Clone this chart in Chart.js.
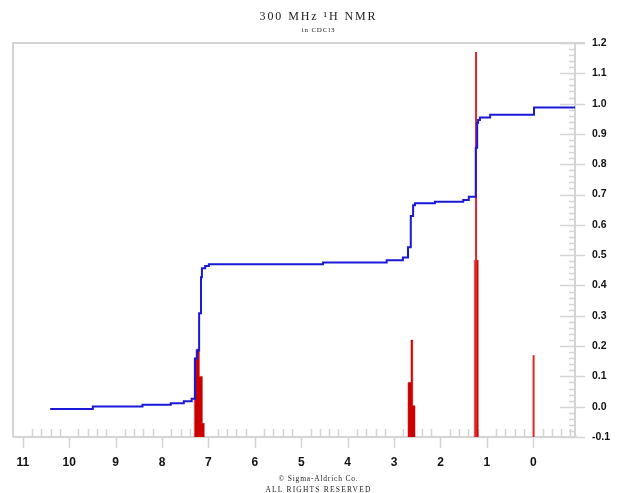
<!DOCTYPE html>
<html><head><meta charset="utf-8">
<script src="https://cdn.jsdelivr.net/npm/chart.js@4.4.0/dist/chart.umd.min.js"></script>
<style>
html,body{margin:0;padding:0;background:#fff;}
#wrap{position:relative;width:623px;height:493px;}
canvas{position:absolute;left:0;top:0;}
.t{position:absolute;left:7px;width:623px;text-align:center;font-family:"Liberation Serif","DejaVu Serif",serif;color:#222;white-space:nowrap;}
</style></head><body>
<div id="wrap">
<canvas id="c" width="623" height="493"></canvas>
<div class="t" style="top:9px;font-size:12px;letter-spacing:1.9px;">300 MHz ¹H NMR</div>
<div class="t" style="top:26px;font-size:7px;letter-spacing:0.8px;">in CDCl3</div>
<div class="t" style="top:474px;font-size:7.5px;letter-spacing:0.8px;">© Sigma-Aldrich Co.</div>
<div class="t" style="top:485px;font-size:7.5px;letter-spacing:1.2px;">ALL RIGHTS RESERVED</div>
</div>
<script>
// ---- data (ppm, relative intensity) ----
const xTicks = [11, 10, 9, 8, 7, 6, 5, 4, 3, 2, 1, 0];
const yTicks = [1.2, 1.1, 1.0, 0.9, 0.8, 0.7, 0.6, 0.5, 0.4, 0.3, 0.2, 0.1, 0.0, -0.1];

const integralShift = [10.41, 9.49, 8.42, 7.81, 7.53, 7.36, 7.29, 7.25, 7.20, 7.16, 7.14, 7.07, 6.99, 4.53, 3.16, 2.81, 2.70, 2.64, 2.59, 2.55, 2.12, 1.51, 1.39, 1.24, 1.21, 1.19, 1.15, 0.93, -0.015, -0.90];
const integralValue = [-0.008, 0.001, 0.006, 0.011, 0.018, 0.026, 0.159, 0.185, 0.308, 0.427, 0.457, 0.464, 0.470, 0.476, 0.483, 0.492, 0.526, 0.629, 0.665, 0.671, 0.676, 0.682, 0.693, 0.854, 0.936, 0.946, 0.954, 0.963, 0.987, 0.987];

const aromaticEdges = [7.303, 7.251, 7.195, 7.131, 7.087];
const aromaticHeights = [0.16, 0.19, 0.10, -0.055];
const quartetEdges = [2.699, 2.635, 2.598, 2.549];
const quartetHeights = [0.08, 0.22, 0.003];
const tripletEdges = [1.271, 1.185];
const tripletHeights = [0.483];
const stickShift = [1.234, -0.006];
const stickHeight = [1.17, 0.17];

const Y_MIN = -0.1, Y_MAX = 1.2, X_MIN = -0.898, X_MAX = 11.21;
const GRID = '#d4d4d4';
const RED = '#cc0000';

function block(edges, heights) {
  const pts = [{x: edges[0], y: Y_MIN}];
  heights.forEach((h, i) => pts.push({x: edges[i], y: h}));
  pts.push({x: edges[edges.length - 1], y: Y_MIN});
  return pts;
}
function stick(i) { return [{x: stickShift[i], y: Y_MIN}, {x: stickShift[i], y: stickHeight[i]}]; }

const integralData = integralShift.map((s, i) => ({x: s, y: integralValue[i]}));

const frame = {
  id: 'frame',
  beforeDatasetsDraw(chart) {
    const {ctx, chartArea: a, scales: {x, y}} = chart;
    ctx.save();
    ctx.strokeStyle = GRID;
    ctx.lineWidth = 2;
    ctx.beginPath();
    ctx.moveTo(a.left, a.bottom); ctx.lineTo(a.left, a.top); ctx.lineTo(a.right + 10, a.top);
    ctx.moveTo(a.left, a.bottom); ctx.lineTo(a.right + 2, a.bottom);
    ctx.moveTo(a.right, a.top); ctx.lineTo(a.right, a.bottom);
    ctx.stroke();
    ctx.lineWidth = 1.5;
    ctx.beginPath();
    for (let i = -4; i <= 56; i++) {
      if (i % 5 === 0) continue;
      const px = Math.round(x.getPixelForValue(i / 5)) + 0.5;
      if (px < a.left + 2 || px > a.right + 3) continue;
      ctx.moveTo(px, a.bottom); ctx.lineTo(px, a.bottom - 8);
    }
    xTicks.forEach(v => { const px = Math.round(x.getPixelForValue(v)) + 0.5; ctx.moveTo(px, a.bottom); ctx.lineTo(px, a.bottom + 11); });
    for (let i = -5; i <= 60; i++) {
      if (i % 5 === 0) continue;
      const py = Math.round(y.getPixelForValue(i / 50)) + 0.5;
      ctx.moveTo(a.right - 6, py); ctx.lineTo(a.right + 1, py);
    }
    yTicks.forEach(v => { const py = Math.round(y.getPixelForValue(v)) + 0.5; ctx.moveTo(a.right - 15, py); ctx.lineTo(a.right + 10, py); });
    ctx.stroke();
    ctx.restore();
  }
};

new Chart(document.getElementById('c'), {
  type: 'scatter',
  data: {
    datasets: [
      {data: integralData, showLine: true, stepped: true, borderColor: '#1a1ad6', borderWidth: 2, pointRadius: 0, fill: false},
      {data: stick(0), showLine: true, borderColor: '#e3262a', borderWidth: 2, pointRadius: 0, fill: false},
      {data: stick(1), showLine: true, borderColor: '#e3262a', borderWidth: 2, pointRadius: 0, fill: false},
      {data: block(aromaticEdges, aromaticHeights), showLine: true, stepped: true, borderColor: RED, backgroundColor: RED, borderWidth: 0.5, pointRadius: 0, fill: 'start'},
      {data: block(quartetEdges, quartetHeights), showLine: true, stepped: true, borderColor: RED, backgroundColor: RED, borderWidth: 0.5, pointRadius: 0, fill: 'start'},
      {data: block(tripletEdges, tripletHeights), showLine: true, stepped: true, borderColor: RED, backgroundColor: RED, borderWidth: 0.5, pointRadius: 0, fill: 'start'}
    ]
  },
  options: {
    responsive: false,
    animation: false,
    devicePixelRatio: 1,
    layout: {padding: {left: 13, top: 43, right: 0, bottom: 0}},
    plugins: {legend: {display: false}, tooltip: {enabled: false}, title: {display: false}},
    scales: {
      x: {
        type: 'linear', reverse: true, min: X_MIN, max: X_MAX,
        afterBuildTicks: s => { s.ticks = xTicks.map(v => ({value: v})); },
        afterFit: s => { s.height = 56; },
        grid: {display: false}, border: {display: false},
        ticks: {padding: 10, color: '#111', font: {family: 'Liberation Sans', size: 12, weight: 'bold'}, maxRotation: 0, autoSkip: false, callback: v => String(v)}
      },
      y: {
        type: 'linear', position: 'right', min: Y_MIN, max: Y_MAX,
        afterBuildTicks: s => { s.ticks = yTicks.map(v => ({value: v})); },
        afterFit: s => { s.width = 48; },
        grid: {display: false}, border: {display: false},
        ticks: {padding: 9, color: '#111', font: {family: 'Liberation Sans', size: 10.5, weight: 'bold'}, autoSkip: false, callback: v => v.toFixed(1)}
      }
    }
  },
  plugins: [frame]
});
</script>
</body></html>
